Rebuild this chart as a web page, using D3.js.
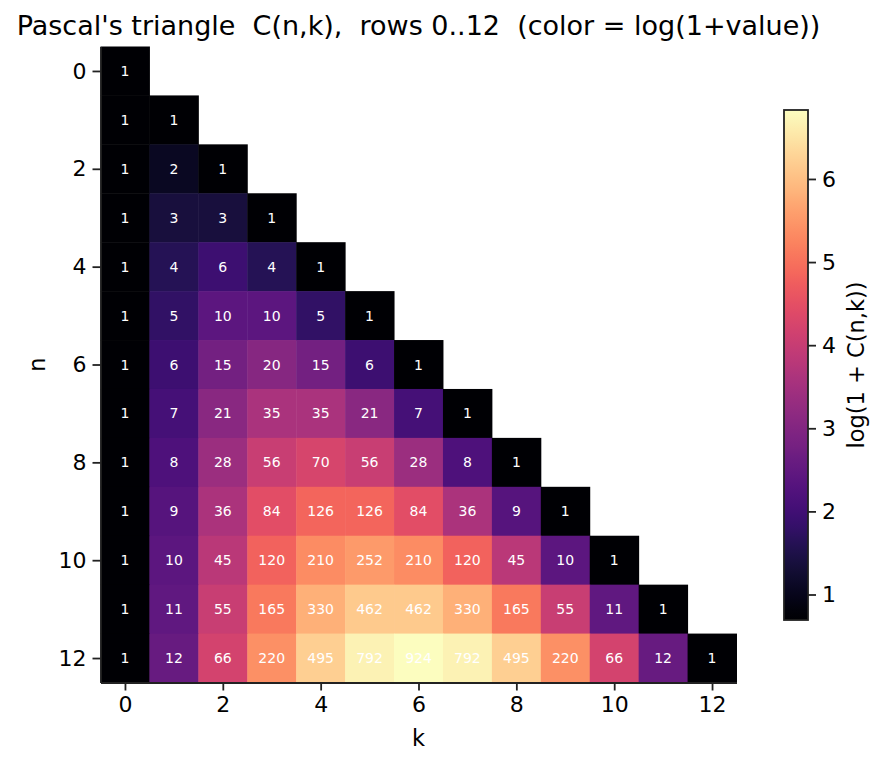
<!DOCTYPE html>
<html>
<head>
<meta charset="utf-8">
<script src="https://cdn.jsdelivr.net/npm/d3@7"></script>
<style>
  body { margin: 0; background: #fff; }
  text { font-family: "DejaVu Sans", sans-serif; white-space: pre; }
</style>
</head>
<body>
<svg id="chart" width="883" height="766"></svg>
<script>
// rows of the triangle
var rows = [
  [1],
  [1, 1],
  [1, 2, 1],
  [1, 3, 3, 1],
  [1, 4, 6, 4, 1],
  [1, 5, 10, 10, 5, 1],
  [1, 6, 15, 20, 15, 6, 1],
  [1, 7, 21, 35, 35, 21, 7, 1],
  [1, 8, 28, 56, 70, 56, 28, 8, 1],
  [1, 9, 36, 84, 126, 126, 84, 36, 9, 1],
  [1, 10, 45, 120, 210, 252, 210, 120, 45, 10, 1],
  [1, 11, 55, 165, 330, 462, 462, 330, 165, 55, 11, 1],
  [1, 12, 66, 220, 495, 792, 924, 792, 495, 220, 66, 12, 1]
];
var axisTicks = [0, 2, 4, 6, 8, 10, 12];
var cbarTicks = [1, 2, 3, 4, 5, 6];

var svg = d3.select("#chart");
var plotLeft = 100.5, plotTop = 46.5, size = 636;

var cells = [];
rows.forEach(function(r, n) {
  r.forEach(function(v, k) { cells.push({n: n, k: k, v: v}); });
});

var idx = d3.range(13);
var x = d3.scaleBand().domain(idx).range([plotLeft, plotLeft + size]);
var y = d3.scaleBand().domain(idx).range([plotTop, plotTop + size]);

var vmin = Math.log(1 + d3.min(cells, d => d.v)),
    vmax = Math.log(1 + d3.max(cells, d => d.v));
var color = d3.scaleSequential(d3.interpolateMagma).domain([vmin, vmax]);

var g = svg.append("g");

g.selectAll("rect.cell")
  .data(cells)
  .enter()
  .append("rect")
  .attr("class", "cell")
  .attr("x", d => x(d.k))
  .attr("y", d => y(d.n))
  .attr("width", x.bandwidth() + 0.5)
  .attr("height", y.bandwidth() + 0.5)
  .attr("fill", d => color(Math.log(1 + d.v)));

g.selectAll("text.val")
  .data(cells)
  .enter()
  .append("text")
  .attr("class", "val")
  .attr("x", d => x(d.k) + x.bandwidth() / 2)
  .attr("y", d => y(d.n) + y.bandwidth() / 2)
  .attr("dy", "0.36em")
  .attr("text-anchor", "middle")
  .style("font-size", "14px")
  .attr("fill", "#fff")
  .text(d => d.v);

// axes: only left and bottom spines
var xPos = d3.scaleLinear().domain([-0.5, 12.5]).range([plotLeft, plotLeft + size]);
var yPos = d3.scaleLinear().domain([-0.5, 12.5]).range([plotTop, plotTop + size]);

var xAxis = svg.append("g")
  .attr("transform", "translate(0," + (plotTop + size) + ")")
  .call(d3.axisBottom(xPos).tickValues(axisTicks).tickSize(8).tickPadding(6).tickSizeOuter(0));
var yAxis = svg.append("g")
  .attr("transform", "translate(" + plotLeft + ",0)")
  .call(d3.axisLeft(yPos).tickValues(axisTicks).tickSize(8).tickPadding(6).tickSizeOuter(0));

[xAxis, yAxis].forEach(function(a) {
  a.selectAll("path").attr("stroke", "#222").attr("stroke-width", 1.8);
  a.selectAll("line").attr("stroke", "#222").attr("stroke-width", 1.8);
  a.selectAll("text").style("font-size", "22px").attr("fill", "#000");
});

svg.append("text")
  .attr("x", 418.5).attr("y", 35)
  .attr("text-anchor", "middle")
  .style("font-size", "27px")
  .text("Pascal's triangle  C(n,k),  rows 0..12  (color = log(1+value))");

svg.append("text")
  .attr("x", plotLeft + size / 2).attr("y", 746)
  .attr("text-anchor", "middle")
  .style("font-size", "22.5px")
  .text("k");

svg.append("text")
  .attr("transform", "translate(45," + (plotTop + size / 2) + ") rotate(-90)")
  .attr("text-anchor", "middle")
  .style("font-size", "22.5px")
  .text("n");

// colorbar
var cbX = 784, cbW = 24, cbTop = 110, cbBot = 620;
var cbScale = d3.scaleLinear().domain([vmin, vmax]).range([cbBot, cbTop]);

var grad = svg.append("defs").append("linearGradient")
  .attr("id", "cbgrad")
  .attr("x1", 0).attr("y1", 1).attr("x2", 0).attr("y2", 0);
grad.selectAll("stop")
  .data(d3.range(0, 1.0001, 0.02))
  .enter()
  .append("stop")
  .attr("offset", d => d)
  .attr("stop-color", d => d3.interpolateMagma(d));

svg.append("rect")
  .attr("x", cbX).attr("y", cbTop)
  .attr("width", cbW).attr("height", cbBot - cbTop)
  .attr("fill", "url(#cbgrad)")
  .attr("stroke", "#222")
  .attr("stroke-width", 1.8);

var cbAxis = svg.append("g")
  .attr("transform", "translate(" + (cbX + cbW) + ",0)")
  .call(d3.axisRight(cbScale).tickValues(cbarTicks).tickFormat(d3.format("d")).tickSize(8).tickPadding(6).tickSizeOuter(0));
cbAxis.select("path").remove();
cbAxis.selectAll("line").attr("stroke", "#222").attr("stroke-width", 1.8);
cbAxis.selectAll("text").style("font-size", "22px").attr("fill", "#000");

svg.append("text")
  .attr("transform", "translate(864," + ((cbTop + cbBot) / 2) + ") rotate(-90)")
  .attr("text-anchor", "middle")
  .style("font-size", "22.5px")
  .text("log(1 + C(n,k))");
</script>
</body>
</html>
